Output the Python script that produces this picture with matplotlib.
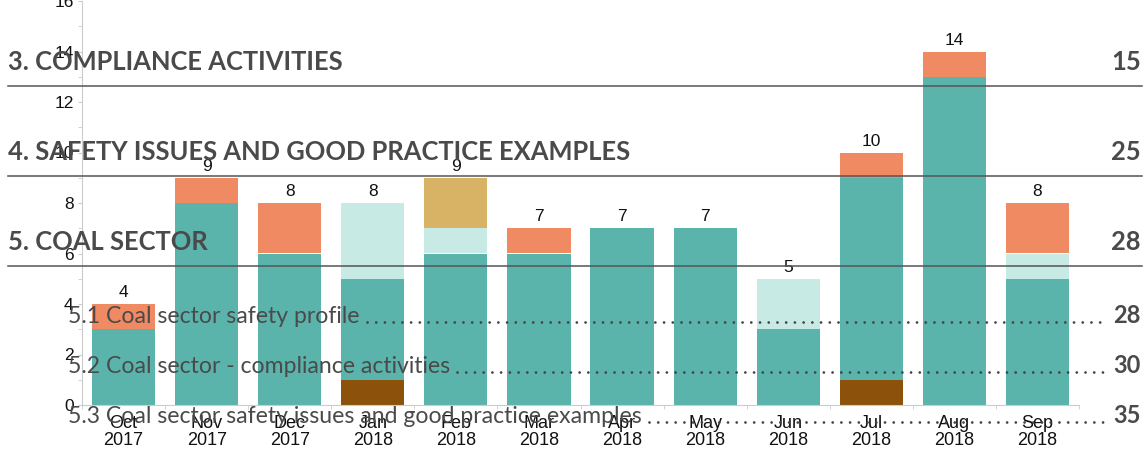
import numpy as np
import matplotlib
matplotlib.use("Agg")
import matplotlib.pyplot as plt
from matplotlib.lines import Line2D

# chart data
months = ["Oct\n2017", "Nov\n2017", "Dec\n2017", "Jan\n2018", "Feb\n2018", "Mar\n2018",
          "Apr\n2018", "May\n2018", "Jun\n2018", "Jul\n2018", "Aug\n2018", "Sep\n2018"]
brown = [0, 0, 0, 1, 0, 0, 0, 0, 0, 1, 0, 0]
teal = [3, 8, 6, 4, 6, 6, 7, 7, 3, 8, 13, 5]
light_teal = [0, 0, 0, 3, 1, 0, 0, 0, 2, 0, 0, 1]
gold = [0, 0, 0, 0, 2, 0, 0, 0, 0, 0, 0, 0]
orange = [1, 1, 2, 0, 0, 1, 0, 0, 0, 1, 1, 2]

series = [brown, teal, light_teal, gold, orange]
colours = ["#8c510a", "#5ab4ac", "#c7eae5", "#d8b365", "#ef8a62"]

# table of contents text sitting over the chart
headings = ["3. COMPLIANCE ACTIVITIES", "4. SAFETY ISSUES AND GOOD PRACTICE EXAMPLES", "5. COAL SECTOR"]
heading_pages = ["15", "25", "28"]
subheadings = ["5.1 Coal sector safety profile", "5.2 Coal sector - compliance activities",
               "5.3 Coal sector safety issues and good practice examples"]
sub_pages = ["28", "30", "35"]

W, H = 1147, 451
fig = plt.figure(figsize=(W / 100, H / 100), dpi=100)
ax = fig.add_axes([82 / W, 1 - 405 / H, (1079 - 82) / W, 404 / H])

x = np.arange(len(months))
bottom = np.zeros(len(months))
for vals, c in zip(series, colours):
    ax.bar(x, vals, width=0.76, bottom=bottom, color=c, zorder=2)
    bottom += np.array(vals)

for i, t in enumerate(bottom):
    ax.annotate(f"{int(t)}", (i, t), xytext=(0, 5), textcoords="offset points",
                ha="center", va="baseline", fontsize=12.5, family="Liberation Sans", color="#111111")

ax.set_xlim(-0.5, len(months) - 0.5)
ax.set_ylim(0, 16)
ax.set_xticks(x)
ax.set_xticklabels(months, fontsize=13, family="Liberation Sans", linespacing=1.0, color="#111111")
ax.set_xticks(np.arange(-0.5, len(months)), minor=True)
ax.set_yticks(np.arange(0, 17, 2))
ax.set_yticks(np.arange(1, 17, 2), minor=True)
for lab in ax.get_yticklabels():
    lab.set_family("Liberation Sans")
    lab.set_fontsize(12.5)
    lab.set_color("#111111")
ax.tick_params(axis="x", which="major", length=0, pad=7)
ax.tick_params(axis="x", which="minor", length=3, color="#cccccc")
ax.tick_params(axis="y", which="both", length=3, color="#cccccc", pad=3)
for s in ["top", "right"]:
    ax.spines[s].set_visible(False)
for s in ["left", "bottom"]:
    ax.spines[s].set_color("#cccccc")


def fx(px):
    return px / W


def fy(py):
    return 1 - py / H


toc_col = "#4a4a4a"
head_base = [69.5, 159.5, 250]
for txt, pg, yb in zip(headings, heading_pages, head_base):
    fig.text(fx(8), fy(yb), txt, fontsize=18.4, fontweight="bold", family="Lato",
             color=toc_col, va="baseline", ha="left")
    fig.text(fx(1141), fy(yb), pg, fontsize=18.4, fontweight="bold", family="Lato",
             color=toc_col, va="baseline", ha="right")
    fig.add_artist(Line2D([fx(8), fx(1142)], [fy(yb + 16), fy(yb + 16)],
                          color="#555555", lw=1.1, transform=fig.transFigure))

fig.canvas.draw()
renderer = fig.canvas.get_renderer()
sub_base = [323, 373, 423]
for txt, pg, yb in zip(subheadings, sub_pages, sub_base):
    t = fig.text(fx(68), fy(yb), txt, fontsize=16.6, family="Lato",
                 color=toc_col, va="baseline", ha="left")
    fig.text(fx(1141), fy(yb), pg, fontsize=17, fontweight="bold", family="Lato",
             color=toc_col, va="baseline", ha="right")
    x_end = t.get_window_extent(renderer).x1 + 7
    fig.add_artist(Line2D([x_end / W, fx(1105)], [fy(yb - 1.5), fy(yb - 1.5)],
                          color="#444444", lw=2.0, linestyle=(0, (0.01, 3.13)),
                          dash_capstyle="round", transform=fig.transFigure))

fig.savefig("out.png", dpi=100)
